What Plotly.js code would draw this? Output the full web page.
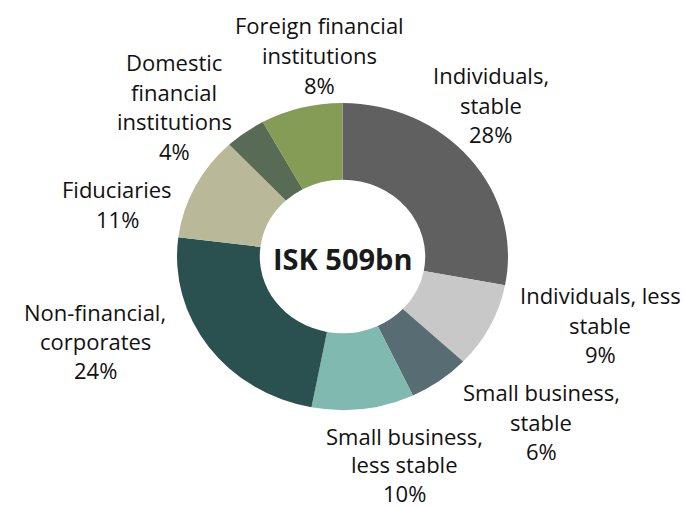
<!DOCTYPE html>
<html>
<head>
<meta charset="utf-8">
<script src="https://cdn.plot.ly/plotly-3.0.1.min.js"></script>
<style>
  html, body { margin: 0; padding: 0; background: #fff; }
  #chart { width: 686px; height: 507px; }
</style>
</head>
<body>
<div id="chart"></div>
<script>
// deposit split, share of total (%)
var categories = [
  'Individuals, stable',
  'Individuals, less stable',
  'Small business, stable',
  'Small business, less stable',
  'Non-financial, corporates',
  'Fiduciaries',
  'Domestic financial institutions',
  'Foreign financial institutions'
];
var shares = [28, 9, 6, 10, 24, 11, 4, 8];
var labelText = [
  'Individuals,<br>stable',
  'Individuals, less<br>stable',
  'Small business,<br>stable',
  'Small business,<br>less stable',
  'Non-financial,<br>corporates',
  'Fiduciaries',
  'Domestic<br>financial<br>institutions',
  'Foreign financial<br>institutions'
];
var centerText = 'ISK 509bn';

var colors = ['#606060', '#c8c8c8', '#576d73', '#80b9af', '#2b5050', '#b9b999', '#576b55', '#849c55'];

// label anchor (pixel centre of first line) and line step
var labelPos = [
  [491, 75], [600, 295], [541, 392], [404, 435.5],
  [95, 312], [117, 189], [174, 62], [319, 25]
];
var labelStep = [29.5, 29.5, 29.5, 28.6, 29, 29.5, 29.5, 30];
var W = 686, H = 507;
var font = '"Open Sans", "Noto Sans", sans-serif';

var annotations = [];
labelText.forEach(function (txt, i) {
  var lines = txt.split('<br>').concat([shares[i] + '%']);
  lines.forEach(function (ln, j) {
    annotations.push({
      xref: 'paper', yref: 'paper',
      x: labelPos[i][0] / W,
      y: 1 - (labelPos[i][1] + j * labelStep[i]) / H,
      xanchor: 'center', yanchor: 'middle',
      text: ln, showarrow: false, borderpad: 0,
      font: { family: font, size: 22, color: '#111' }
    });
  });
});
annotations.push({
  xref: 'paper', yref: 'paper',
  x: 342.5 / W, y: 1 - 258 / H,
  xanchor: 'center', yanchor: 'middle',
  text: '<b>' + centerText + '</b>', showarrow: false,
  font: { family: font, size: 29, color: '#1a1a1a' }
});

var trace = {
  type: 'pie',
  labels: categories,
  values: shares,
  sort: false,
  direction: 'clockwise',
  rotation: 0,
  hole: 0.5,
  textinfo: 'none',
  hoverinfo: 'label+percent',
  marker: { colors: colors, line: { color: '#fff', width: 0 } },
  domain: { x: [(342.5 - 153.5) / W, (342.5 + 153.5) / W], y: [1 - 410 / H, 1 - 103 / H] }
};

var layout = {
  width: W, height: H,
  margin: { l: 0, r: 0, t: 0, b: 0 },
  showlegend: false,
  paper_bgcolor: '#fff',
  annotations: annotations
};

Plotly.newPlot('chart', [trace], layout, { staticPlot: true }).then(function () {
  // the source chart is slightly wider than tall
  var g = document.querySelector('#chart .pielayer');
  if (g) {
    var cx = 342.5, cy = 256.5, sx = 1.078;
    g.setAttribute('transform', 'translate(' + cx + ',' + cy + ') scale(' + sx + ',1) translate(' + (-cx) + ',' + (-cy) + ')');
  }
});
</script>
</body>
</html>
